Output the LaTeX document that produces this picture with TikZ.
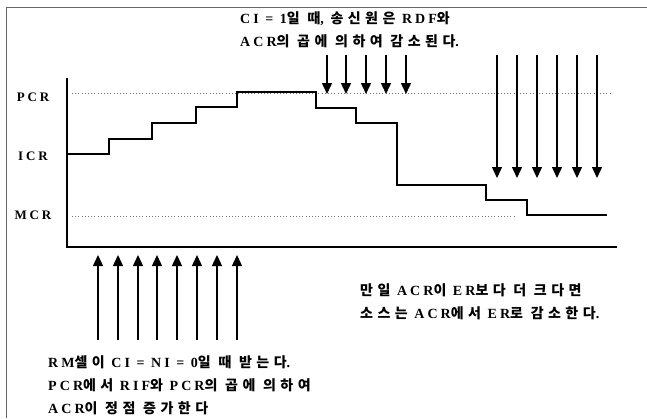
\documentclass[tikz,border=0pt]{standalone}
\usepackage{fontspec}
\setmainfont{Liberation Serif}[LetterSpace=22]
\newfontfamily\krfont{Noto Sans CJK KR}[LetterSpace=32]
\newcommand{\kr}[1]{{\krfont\bfseries #1}}
\usetikzlibrary{arrows.meta}
\begin{document}
\begin{tikzpicture}[x=1pt,y=-1pt,
  frame/.style={draw=black!60,line width=0.8pt},
  axisline/.style={line width=1.8pt},
  curve/.style={line width=1.6pt,line join=miter},
  guide/.style={draw=black!55,line width=0.7pt,dash pattern=on 1pt off 2.2pt},
  arr/.style={line width=1.4pt,-{Triangle[width=10pt,length=11pt]}},
  lbl/.style={font=\fontsize{13}{15}\selectfont\bfseries,inner sep=0pt},
  txt/.style={font=\fontsize{14}{16}\selectfont\bfseries,inner sep=0pt,anchor=west}]
\useasboundingbox (0,0) rectangle (647,418);
% frame
\draw[frame] (6,418) -- (6,7) -- (647,7);
% guides
\coordinate (pcrA) at (72,93); \coordinate (pcrB) at (611,93);
\coordinate (mcrA) at (72,216); \coordinate (mcrB) at (515,216);
\draw[guide] (pcrA) -- (pcrB);
\draw[guide] (mcrA) -- (mcrB);
% axes
\coordinate (ytop) at (67,78); \coordinate (orig) at (67,247); \coordinate (xend) at (617,247);
\draw[axisline] (ytop) -- (orig) -- (xend);
% labels
\node[lbl] (pcr) at (33,97) {PCR};
\node[lbl] (icr) at (33,156) {ICR};
\node[lbl] (mcr) at (33,215) {MCR};
% staircase
\draw[curve] (67,154) -- (109,154) -- (109,139) -- (152,139) -- (152,123) -- (196,123)
  -- (196,107) -- (237,107) -- (237,92) -- (316,92) -- (316,108) -- (356,108)
  -- (356,123) -- (397,123) -- (397,185) -- (486,185) -- (486,200) -- (527,200)
  -- (527,215) -- (607,215);
% top arrows
\foreach \x [count=\i] in {327,346,366,386,406} {
  \coordinate (ta\i) at (\x,55); \coordinate (tb\i) at (\x,94);
  \draw[arr] (ta\i) -- (tb\i);
}
% right arrows
\foreach \x [count=\i] in {497,517,537,557,577,597} {
  \coordinate (ra\i) at (\x,55); \coordinate (rb\i) at (\x,178);
  \draw[arr] (ra\i) -- (rb\i);
}
% bottom arrows
\foreach \x [count=\i] in {98,118,138,157,177,197,217,237} {
  \coordinate (ba\i) at (\x,340); \coordinate (bb\i) at (\x,255);
  \draw[arr] (ba\i) -- (bb\i);
}
% texts
\node[txt] (t1) at (240,19) {CI = 1\kr{일 때}, \kr{송신원은} RDF\kr{와}};
\node[txt] (t2) at (240,41) {ACR\kr{의 곱에 의하여 감소된다}.};
\node[txt] (r1) at (360,290) {\kr{만일} ACR\kr{이} ER\kr{보다 더 크다면}};
\node[txt] (r2) at (360,313) {\kr{소스는} ACR\kr{에서} ER\kr{로 감소한다}.};
\node[txt] (b1) at (48,362) {RM\kr{셀이} CI = NI = 0\kr{일 때 받는다}.};
\node[txt] (b2) at (48,385) {PCR\kr{에서} RIF\kr{와} PCR\kr{의 곱에 의하여}};
\node[txt] (b3) at (48,408) {ACR\kr{이 정점 증가한다}};
\end{tikzpicture}
\end{document}
